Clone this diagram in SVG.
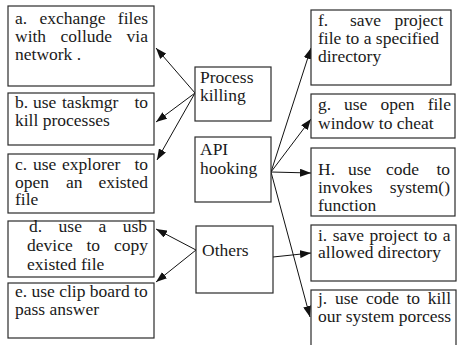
<svg xmlns="http://www.w3.org/2000/svg" width="459" height="345" viewBox="0 0 459 345">
  <style>
    .box { fill: #ffffff; stroke: #2b2b2b; stroke-width: 1.2; }
    .lbl { font-family: "Liberation Serif", "Times New Roman", serif; font-size: 17.5px; fill: #1a1a1a; }
    .end { text-anchor: end; }
    .edge { stroke: #111111; stroke-width: 1; fill: none; marker-end: url(#arrow); }
  </style>
  <defs>
    <marker id="arrow" markerUnits="userSpaceOnUse" markerWidth="12" markerHeight="8" refX="11" refY="4" orient="auto">
      <path d="M0,0 L11,4 L0,8 Z" fill="#111111"/>
    </marker>
  </defs>
  <rect width="459" height="345" fill="#ffffff"/>

  <!-- connectors: category boxes fan out to their items -->
  <g id="connectors">
    <line class="edge" x1="195" y1="93" x2="156" y2="48"/>
    <line class="edge" x1="195" y1="93" x2="156" y2="122"/>
    <line class="edge" x1="195" y1="93" x2="157" y2="160"/>
    <line class="edge" x1="271" y1="172" x2="311" y2="48"/>
    <line class="edge" x1="271" y1="172" x2="311" y2="119"/>
    <line class="edge" x1="271" y1="172" x2="311" y2="173"/>
    <line class="edge" x1="271" y1="172" x2="310" y2="317"/>
    <line class="edge" x1="196" y1="250" x2="156" y2="229"/>
    <line class="edge" x1="196" y1="250" x2="156" y2="282"/>
    <line class="edge" x1="273" y1="257" x2="311" y2="253"/>
  </g>

  <g id="nodes">
    <!-- left column -->
    <g id="node-a">
      <rect class="box" x="8" y="6" width="146" height="80"/>
      <text class="lbl" y="24"><tspan x="15">a.</tspan><tspan x="39.5">exchange</tspan><tspan x="148" class="end">files</tspan></text>
      <text class="lbl" y="42"><tspan x="15">with</tspan><tspan x="60.6">collude</tspan><tspan x="148" class="end">via</tspan></text>
      <text class="lbl" x="15" y="60">network .</text>
    </g>
    <g id="node-b">
      <rect class="box" x="8" y="93" width="146" height="52"/>
      <text class="lbl" y="108"><tspan x="15">b.</tspan><tspan x="33">use</tspan><tspan x="62">taskmgr</tspan><tspan x="148" class="end">to</tspan></text>
      <text class="lbl" x="15" y="126">kill processes</text>
    </g>
    <g id="node-c">
      <rect class="box" x="8" y="154" width="146" height="59"/>
      <text class="lbl" y="170"><tspan x="15">c.</tspan><tspan x="33">use</tspan><tspan x="62">explorer</tspan><tspan x="148" class="end">to</tspan></text>
      <text class="lbl" y="188"><tspan x="15">open</tspan><tspan x="66">an</tspan><tspan x="148" class="end">existed</tspan></text>
      <text class="lbl" x="15" y="205">file</text>
    </g>
    <g id="node-d">
      <rect class="box" x="8" y="221" width="146" height="56"/>
      <text class="lbl" y="232"><tspan x="29">d.</tspan><tspan x="58.6">use</tspan><tspan x="98.4">a</tspan><tspan x="147" class="end">usb</tspan></text>
      <text class="lbl" y="251"><tspan x="27">device</tspan><tspan x="86.5">to</tspan><tspan x="148" class="end">copy</tspan></text>
      <text class="lbl" x="27" y="270">existed file</text>
    </g>
    <g id="node-e">
      <rect class="box" x="8" y="283" width="146" height="55"/>
      <text class="lbl" x="15" y="297">e. use clip board to</text>
      <text class="lbl" x="15" y="315">pass answer</text>
    </g>

    <!-- middle column: categories -->
    <g id="node-process-killing">
      <rect class="box" x="195" y="67" width="76" height="54"/>
      <text class="lbl" x="200" y="83">Process</text>
      <text class="lbl" x="200" y="101">killing</text>
    </g>
    <g id="node-api-hooking">
      <rect class="box" x="195" y="137" width="76" height="65"/>
      <text class="lbl" x="200" y="155">API</text>
      <text class="lbl" x="200" y="174">hooking</text>
    </g>
    <g id="node-others">
      <rect class="box" x="196" y="226" width="77" height="67"/>
      <text class="lbl" x="202" y="256">Others</text>
    </g>

    <!-- right column -->
    <g id="node-f">
      <rect class="box" x="311" y="10" width="140" height="75"/>
      <text class="lbl" y="26"><tspan x="318">f.</tspan><tspan x="350">save</tspan><tspan x="443" class="end">project</tspan></text>
      <text class="lbl" x="318" y="44">file to a specified</text>
      <text class="lbl" x="318" y="62">directory</text>
    </g>
    <g id="node-g">
      <rect class="box" x="311" y="94" width="144" height="44"/>
      <text class="lbl" y="110"><tspan x="318">g.</tspan><tspan x="344">use</tspan><tspan x="380.5">open</tspan><tspan x="451" class="end">file</tspan></text>
      <text class="lbl" x="318" y="129">window to cheat</text>
    </g>
    <g id="node-h">
      <rect class="box" x="311" y="148" width="144" height="68"/>
      <text class="lbl" y="175"><tspan x="318">H.</tspan><tspan x="348">use</tspan><tspan x="386">code</tspan><tspan x="450" class="end">to</tspan></text>
      <text class="lbl" y="193"><tspan x="318">invokes</tspan><tspan x="450" class="end">system()</tspan></text>
      <text class="lbl" x="318" y="211">function</text>
    </g>
    <g id="node-i">
      <rect class="box" x="311" y="225" width="145" height="56"/>
      <text class="lbl" x="318" y="241" word-spacing="1.2">i. save project to a</text>
      <text class="lbl" x="318" y="258">allowed directory</text>
    </g>
    <g id="node-j">
      <rect class="box" x="311" y="290" width="145" height="70"/>
      <text class="lbl" y="304"><tspan x="318">j.</tspan><tspan x="335">use</tspan><tspan x="366">code</tspan><tspan x="406.5">to</tspan><tspan x="451" class="end">kill</tspan></text>
      <text class="lbl" x="318" y="322">our system porcess</text>
    </g>
  </g>
</svg>
